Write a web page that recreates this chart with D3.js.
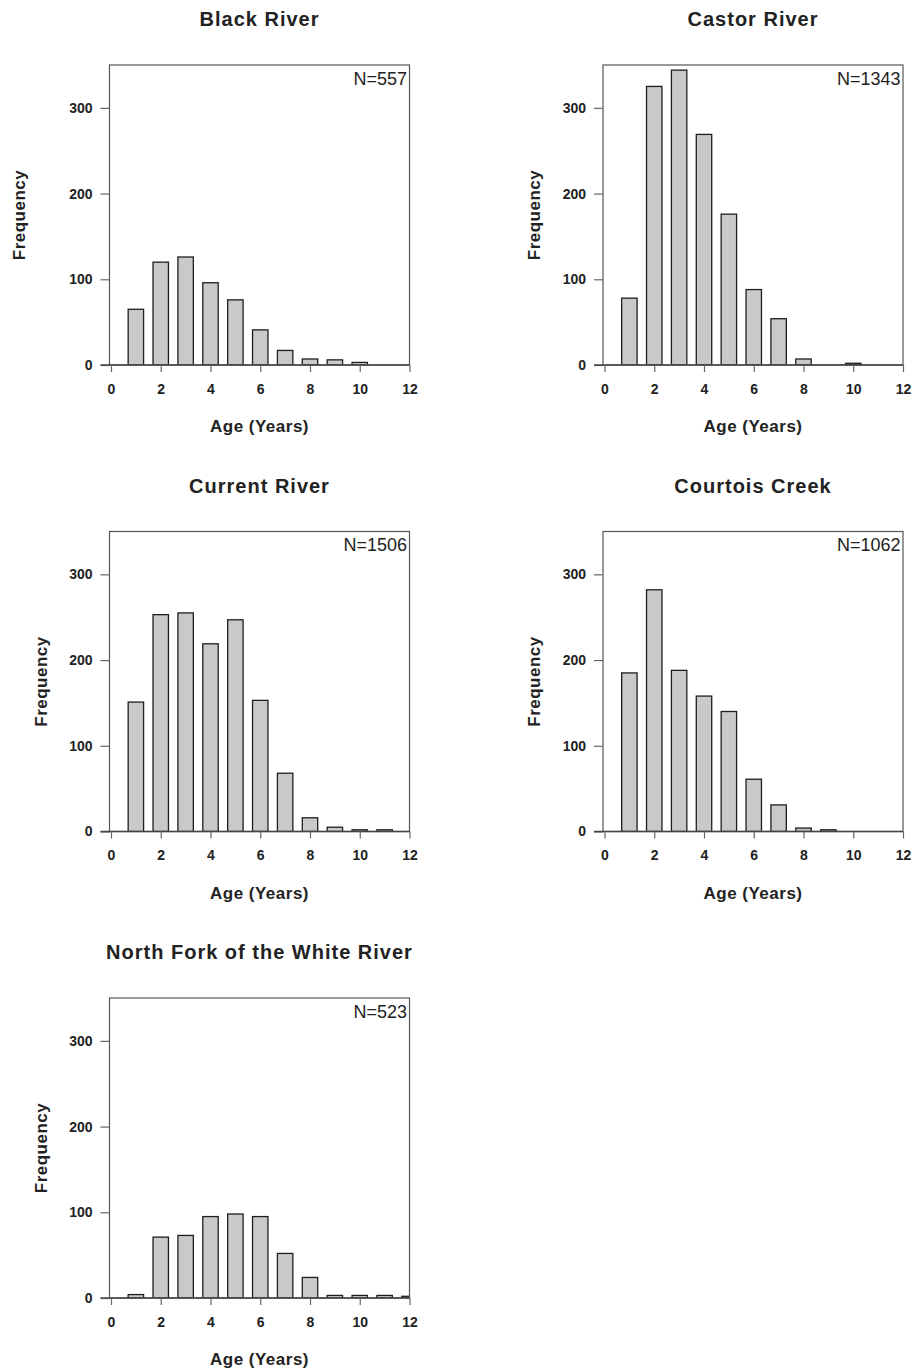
<!DOCTYPE html>
<html>
<head>
<meta charset="utf-8">
<script src="https://cdn.jsdelivr.net/npm/d3@7"></script>
<style>
  html, body { margin: 0; padding: 0; background: #fff; }
  svg { display: block; }
  text { font-family: "Liberation Sans", Arial, Helvetica, sans-serif; fill: #222; }
</style>
</head>
<body>
<svg id="chart" width="913" height="1372"></svg>
<script>
// Age classes (years) shared by every river
const ages = [1, 2, 3, 4, 5, 6, 7, 8, 9, 10, 11, 12];

// Frequency of fish in each age class
const blackRiver     = [65, 120, 126, 96, 76, 41, 17, 7, 6, 3, 0, 0];
const castorRiver    = [78, 325, 344, 269, 176, 88, 54, 7, 0, 2, 0, 0];
const currentRiver   = [151, 253, 255, 219, 247, 153, 68, 16, 5, 2, 2, 0];
const courtoisCreek  = [185, 282, 188, 158, 140, 61, 31, 4, 2, 0, 0, 0];
const northForkWhite = [4, 71, 73, 95, 98, 95, 52, 24, 3, 3, 3, 2];

const siteNames   = ["Black River", "Castor River", "Current River", "Courtois Creek", "North Fork of the White River"];
const sampleSizes = [557, 1343, 1506, 1062, 523];
const seriesList  = [blackRiver, castorRiver, currentRiver, courtoisCreek, northForkWhite];

const xTicks = [0, 2, 4, 6, 8, 10, 12];
const yTicks = [0, 100, 200, 300];

// Panel grid placement (left edge, top edge of each plot box)
const panelLayout = [
  { left: 109.5, top: 65,    yLabelX: 19 },
  { left: 603,   top: 65,    yLabelX: 534 },
  { left: 109.5, top: 531.5, yLabelX: 40.5 },
  { left: 603,   top: 531.5, yLabelX: 534 },
  { left: 109.5, top: 998,   yLabelX: 40.5 }
];

const boxW = 300, boxH = 300;
const barWidthUnits = 0.62;

const svg = d3.select("#chart");

seriesList.forEach((values, i) => {
  const L = panelLayout[i];
  const g = svg.append("g");

  const x = d3.scaleLinear().domain([0, 12]).range([L.left + 1.5, L.left + boxW]);
  const y = d3.scaleLinear().domain([0, 350]).range([L.top + boxH, L.top]);

  const clipId = "clip" + i;
  g.append("clipPath").attr("id", clipId)
    .append("rect")
    .attr("x", L.left).attr("y", L.top)
    .attr("width", boxW).attr("height", boxH);

  // Bars
  const barPx = x(barWidthUnits) - x(0);
  g.append("g").attr("clip-path", `url(#${clipId})`)
    .selectAll("rect")
    .data(ages.map((a, k) => ({ age: a, n: values[k] })).filter(d => d.n > 0))
    .join("rect")
    .attr("x", d => x(d.age) - barPx / 2)
    .attr("width", barPx)
    .attr("y", d => y(d.n))
    .attr("height", d => y(0) - y(d.n))
    .attr("fill", "#c8c9cb")
    .attr("stroke", "#1e1e1e")
    .attr("stroke-width", 1.3);

  // Plot frame
  g.append("rect")
    .attr("x", L.left).attr("y", L.top)
    .attr("width", boxW).attr("height", boxH)
    .attr("fill", "none")
    .attr("stroke", "#555")
    .attr("stroke-width", 1.2);

  // Y axis
  const yAxis = g.append("g")
    .attr("transform", `translate(${L.left},0)`)
    .call(d3.axisLeft(y).tickValues(yTicks).tickSize(9).tickPadding(8));
  yAxis.select(".domain").remove();
  yAxis.selectAll("line").attr("stroke", "#666").attr("stroke-width", 1.2);
  yAxis.selectAll("text")
    .style("font-family", '"Liberation Sans", Arial, sans-serif')
    .style("font-size", "14px").style("font-weight", "bold").attr("fill", "#222");

  // X axis
  const xAxis = g.append("g")
    .attr("transform", `translate(0,${L.top + boxH})`)
    .call(d3.axisBottom(x).tickValues(xTicks).tickSize(7).tickPadding(12));
  xAxis.select(".domain").attr("stroke", "#444").attr("stroke-width", 1.4)
    .attr("d", `M${L.left - 9},0H${L.left + boxW}`);
  xAxis.selectAll("line").attr("stroke", "#666").attr("stroke-width", 1.2);
  xAxis.selectAll("text")
    .style("font-family", '"Liberation Sans", Arial, sans-serif')
    .style("font-size", "14px").style("font-weight", "bold").attr("fill", "#222");

  // Title
  g.append("text")
    .attr("x", L.left + boxW / 2)
    .attr("y", L.top - 39)
    .attr("text-anchor", "middle")
    .style("font-size", "20px").style("font-weight", "bold")
    .style("letter-spacing", "1px")
    .text(siteNames[i]);

  // Sample size
  g.append("text")
    .attr("x", L.left + boxW - 2.5)
    .attr("y", L.top + 19.5)
    .attr("text-anchor", "end")
    .style("font-size", "18px")
    .text("N=" + sampleSizes[i]);

  // Axis titles
  g.append("text")
    .attr("x", L.left + boxW / 2)
    .attr("y", L.top + boxH + 67)
    .attr("text-anchor", "middle")
    .style("font-size", "17px").style("font-weight", "bold")
    .style("letter-spacing", "0.5px")
    .text("Age (Years)");

  g.append("text")
    .attr("transform", `translate(${L.yLabelX + 6},${L.top + boxH / 2}) rotate(-90)`)
    .attr("text-anchor", "middle")
    .style("font-size", "17px").style("font-weight", "bold")
    .style("letter-spacing", "0.5px")
    .text("Frequency");
});
</script>
</body>
</html>
